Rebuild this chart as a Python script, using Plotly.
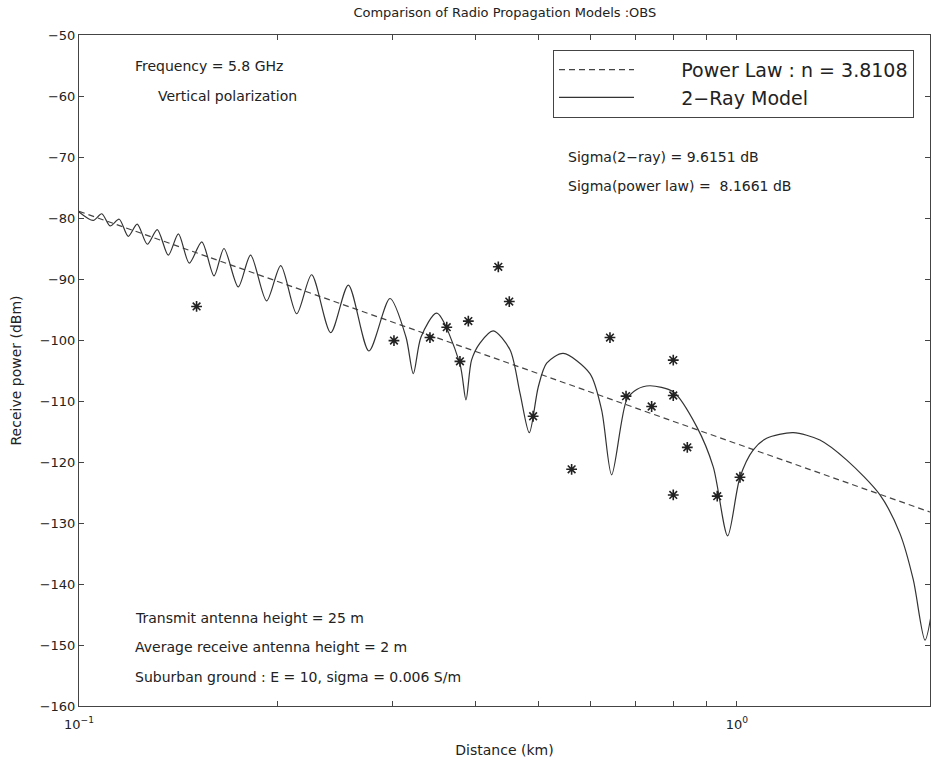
import math
import plotly.graph_objects as go

# ---- data ----
# 2-ray model curve: distance (km) and received power (dBm)
ray_d = [0.1000, 0.1051, 0.1083, 0.1115, 0.1151, 0.1188, 0.1226, 0.1270, 0.1315,
         0.1367, 0.1416, 0.1471, 0.1537, 0.1604, 0.1661, 0.1746, 0.1823, 0.1928,
         0.2026, 0.2142, 0.2257, 0.2413, 0.2567, 0.2758, 0.2969, 0.3140, 0.3222,
         0.3310, 0.3497, 0.3790, 0.3874, 0.3950, 0.4068, 0.4262, 0.4519, 0.4680,
         0.4835, 0.4989, 0.5138, 0.5445, 0.5978, 0.6228, 0.6450, 0.6799, 0.7041,
         0.7375, 0.8002, 0.8685, 0.9204, 0.9680, 1.0106, 1.0587, 1.1094, 1.2177,
         1.3368, 1.4686, 1.6495, 1.7686, 1.8535, 1.9311, 1.9929]
ray_db = [-79.0, -80.4, -79.3, -81.3, -80.2, -83.0, -81.0, -84.3, -81.9,
          -86.1, -82.6, -87.4, -83.9, -89.5, -85.0, -91.3, -86.1, -93.6,
          -87.8, -95.7, -89.3, -98.8, -91.0, -101.8, -93.2, -99.5, -105.5,
          -99.5, -95.6, -103.8, -109.8, -103.3, -100.5, -98.5, -101.6, -108.7,
          -115.2, -107.7, -103.8, -102.2, -105.5, -111.5, -122.1, -109.8, -108.1,
          -107.5, -108.5, -114.2, -120.8, -132.1, -122.5, -118.0, -116.1, -115.2,
          -116.4, -119.7, -125.4, -131.7, -139.3, -149.2, -142.1]

# power law fit (n = 3.8108)
pl_d = [0.1, 1.965]
pl_db = [-78.9, -128.2]

# measured points (OBS)
obs_d = [0.1509, 0.3011, 0.3415, 0.3622, 0.3793, 0.3906, 0.4338, 0.4508, 0.4900,
         0.5607, 0.6412, 0.6783, 0.7419, 0.8002, 0.8002, 0.8002, 0.8405, 0.9333, 1.0106]
obs_db = [-94.5, -100.1, -99.6, -97.9, -103.5, -96.9, -88.0, -93.7, -112.5,
          -121.2, -99.6, -109.2, -110.9, -103.3, -109.1, -125.4, -117.6, -125.6, -122.5]

x_tickvals = [0.1, 1.0]
x_ticktext = ["10<sup>\u22121</sup>", "10<sup>0</sup>"]
x_minorvals = [0.2, 0.3, 0.4, 0.5, 0.6, 0.7, 0.8, 0.9]
y_tickvals = list(range(-160, -49, 10))

# text notes: (distance km, dBm, text)
notes = [
    (0.1208, -55.1, "Frequency = 5.8 GHz"),
    (0.1309, -60.0, "Vertical polarization"),
    (0.5497, -70.0, "Sigma(2\u2212ray) = 9.6151 dB"),
    (0.5497, -74.8, "Sigma(power law) =  8.1661 dB"),
    (0.1208, -145.6, "Transmit antenna height = 25 m"),
    (0.1208, -150.4, "Average receive antenna height = 2 m"),
    (0.1208, -155.2, "Suburban ground : E = 10, sigma = 0.006 S/m"),
]

FONT = "DejaVu Sans, Verdana, sans-serif"
INK = "#222222"
PAD = "\u00a0" * 7

fig = go.Figure()
fig.add_trace(go.Scatter(
    x=pl_d, y=pl_db, mode="lines",
    name=PAD + "Power Law : n = 3.8108",
    line=dict(color="#444444", width=1.2, dash="6px,4px")))
fig.add_trace(go.Scatter(
    x=ray_d, y=ray_db, mode="lines",
    name=PAD + "2\u2212Ray Model",
    line=dict(color="#333333", width=1.2, shape="spline", smoothing=0.8)))
fig.add_trace(go.Scatter(
    x=obs_d, y=obs_db, mode="markers", showlegend=False,
    marker=dict(symbol="asterisk-open", size=9, color=INK,
                line=dict(color=INK, width=1.6))))

for xv, yv, t in notes:
    fig.add_annotation(x=math.log10(xv), y=yv, xref="x", yref="y", text=t, showarrow=False,
                       xanchor="left", yanchor="middle",
                       font=dict(family=FONT, size=14, color=INK))

axis_common = dict(showgrid=False, zeroline=False, showline=True, linecolor="#444444",
                   linewidth=1, mirror="ticks", ticks="inside", ticklen=5,
                   tickcolor="#444444", tickfont=dict(family=FONT, size=13, color=INK))

fig.update_layout(
    width=934, height=771,
    margin=dict(l=79, r=4, t=35, b=65),
    paper_bgcolor="white", plot_bgcolor="white",
    title=dict(text="Comparison of Radio Propagation Models :OBS", x=0.5405, xanchor="center",
               y=0.984, yanchor="middle", font=dict(family=FONT, size=13, color=INK)),
    xaxis=dict(type="log", range=[-1, 0.2934], tickmode="array",
               tickvals=x_tickvals, ticktext=x_ticktext, ticklabelstandoff=6,
               minor=dict(tickmode="array", tickvals=x_minorvals, ticks="inside",
                          ticklen=5, tickcolor="#444444", showgrid=False),
               title=dict(text="Distance (km)", font=dict(family=FONT, size=14, color=INK),
                          standoff=14),
               **axis_common),
    yaxis=dict(range=[-160, -50], tickvals=y_tickvals,
               title=dict(text="Receive power (dBm)", font=dict(family=FONT, size=14, color=INK),
                          standoff=14),
               **axis_common),
    legend=dict(x=0.557, y=0.978, xanchor="left", yanchor="top",
                bgcolor="white", bordercolor="#444444", borderwidth=1,
                font=dict(family=FONT, size=19, color=INK),
                tracegroupgap=0, itemwidth=75),
    showlegend=True,
)

fig.write_html("out.html")
